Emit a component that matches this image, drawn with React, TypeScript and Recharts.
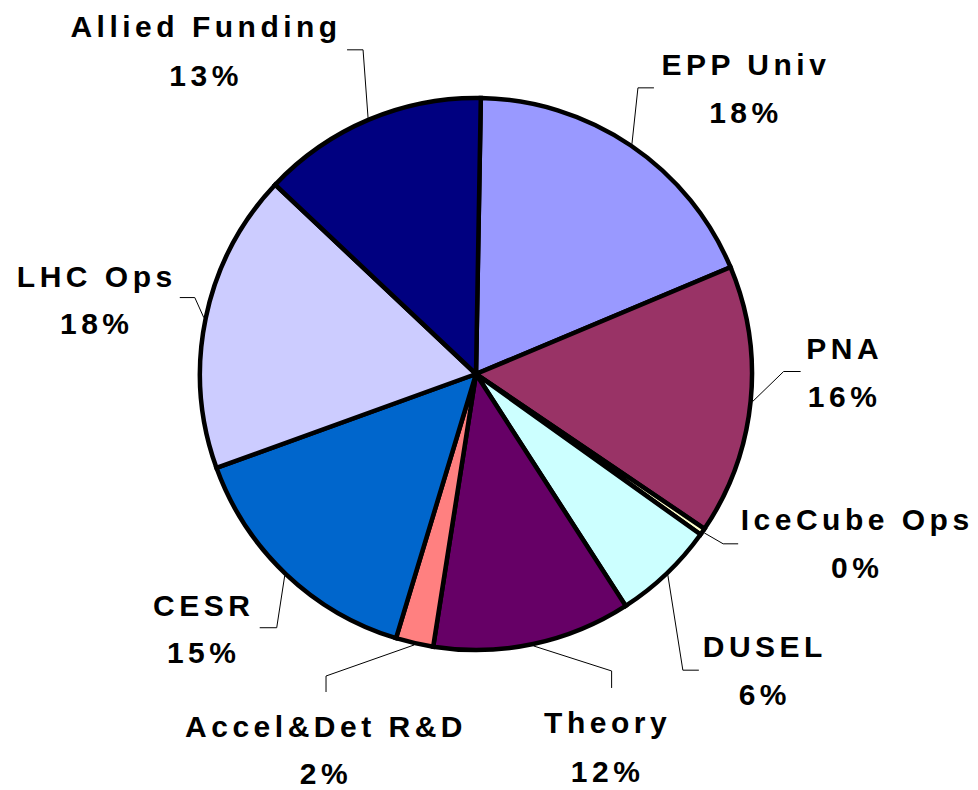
import { PieChart, Pie, Cell } from "recharts";

const categories = [
  "EPP Univ",
  "PNA",
  "IceCube Ops",
  "DUSEL",
  "Theory",
  "Accel&Det R&D",
  "CESR",
  "LHC Ops",
  "Allied Funding",
];
const shares = [18.4, 15.8, 0.4, 6.0, 11.6, 2.2, 14.8, 17.55, 13.25];

const sliceColors = [
  "#9999FF",
  "#993366",
  "#FFFFCC",
  "#CCFFFF",
  "#660066",
  "#FF8080",
  "#0066CC",
  "#CCCCFF",
  "#000080",
];

// leader elbow / end and text offsets, relative to the point on the rim at midAngle
const labelLayout = [
  { elbow: [6, -56], end: [22, -56], tx: 114, nameY: -69, pctY: -21 },
  { elbow: [31, -30], end: [48, -30], tx: 92, nameY: -43, pctY: 5 },
  { elbow: [19, 11], end: [34, 11], tx: 153, nameY: -3, pctY: 45 },
  { elbow: [15, 95], end: [31, 95], tx: 97, nameY: 82, pctY: 130 },
  { elbow: [78, 25], end: [78, 42], tx: 74, nameY: 87, pctY: 136 },
  { elbow: [-88, 31], end: [-88, 47], tx: -88, nameY: 92, pctY: 139 },
  { elbow: [-8, 52], end: [-25, 52], tx: -81, nameY: 40, pctY: 87 },
  { elbow: [-9, -20], end: [-24, -20], tx: -107, nameY: -31, pctY: 16 },
  { elbow: [-5, -68], end: [-21, -68], tx: -162, nameY: -81, pctY: -32 },
];

const data = categories.map((name, i) => ({ name, value: shares[i] }));

const RADIAN = Math.PI / 180;

const renderLabel = (props: any) => {
  const { cx, cy, midAngle, outerRadius, percent, index, name } = props;
  const layout = labelLayout[index];
  const r = outerRadius + 2;
  const sx = cx + r * Math.cos(-midAngle * RADIAN);
  const sy = cy + r * Math.sin(-midAngle * RADIAN);
  const ex = sx + layout.elbow[0];
  const ey = sy + layout.elbow[1];
  const fx = sx + layout.end[0];
  const fy = sy + layout.end[1];
  const textStyle = {
    fontFamily: "'Liberation Sans', Arial, sans-serif",
    fontWeight: 700,
    fontSize: 30,
    letterSpacing: 4.5,
  };
  return (
    <g key={`label-${index}`}>
      <polyline
        points={`${sx},${sy} ${ex},${ey} ${fx},${fy}`}
        fill="none"
        stroke="#000"
        strokeWidth={1}
      />
      <text
        x={sx + layout.tx}
        y={sy + layout.nameY}
        textAnchor="middle"
        fill="#000"
        style={textStyle}
      >
        {name}
      </text>
      <text
        x={sx + layout.tx}
        y={sy + layout.pctY}
        textAnchor="middle"
        fill="#000"
        style={textStyle}
      >
        {`${Math.round(percent * 100)}%`}
      </text>
    </g>
  );
};

export default function App() {
  return (
    <div style={{ position: "absolute", left: 0, top: 0, background: "#fff" }}>
      <PieChart
        width={978}
        height={790}
        margin={{ top: 0, right: 0, bottom: 0, left: 0 }}
      >
        <Pie
          data={data}
          dataKey="value"
          nameKey="name"
          cx={476}
          cy={374}
          outerRadius={276}
          startAngle={89}
          endAngle={-271}
          stroke="#000"
          strokeWidth={4.5}
          label={renderLabel}
          labelLine={false}
          isAnimationActive={false}
        >
          {data.map((d, i) => (
            <Cell key={d.name} fill={sliceColors[i]} />
          ))}
        </Pie>
      </PieChart>
    </div>
  );
}
